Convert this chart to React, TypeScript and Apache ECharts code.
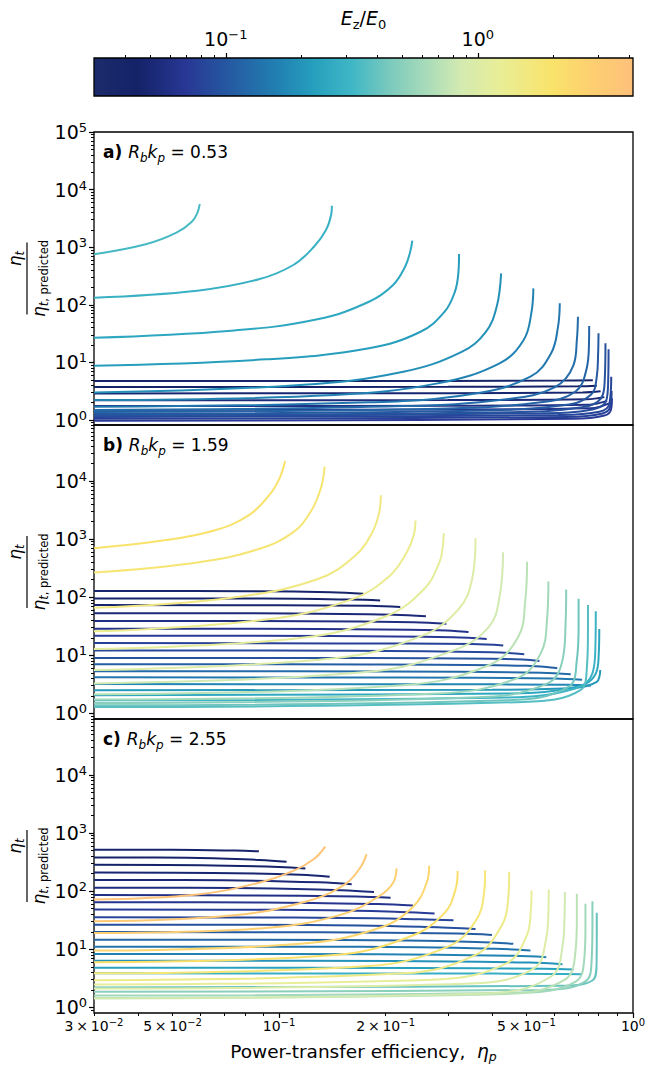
import React, { useEffect, useRef } from "react";
import * as echarts from "echarts";

// ---------- colour scale E_z / E_0 ----------
const CB_MIN = 0.03;
const CB_MAX = 4.13;
const CB_MAJOR = [0.1, 1];
const CB_MINOR = [0.04, 0.05, 0.06, 0.07, 0.08, 0.09, 0.2, 0.3, 0.4, 0.5, 0.6, 0.7, 0.8, 0.9, 2, 3, 4];
const CMAP_POS = [0, 0.08, 0.17, 0.25, 0.34, 0.41, 0.48, 0.55, 0.62, 0.68, 0.75, 0.85, 0.92, 1];
const CMAP_COL = ["#1b2b6a", "#142268", "#283794", "#2559a1", "#2180b2", "#27a0be", "#40b7c6", "#7ccabd", "#aadcb9", "#d3eab1", "#e8ee98", "#f9e36a", "#fdd070", "#fec07a"];

// ---------- axes ----------
const X_MIN = 0.03;
const X_MAX = 1;
const X_LABELS = [0.03, 0.05, 0.1, 0.2, 0.5, 1];
const X_MAJOR = [0.1, 1];
const X_MINOR = [0.03, 0.04, 0.05, 0.06, 0.07, 0.08, 0.09, 0.2, 0.3, 0.4, 0.5, 0.6, 0.7, 0.8, 0.9];
const Y_MIN = [0.82, 0.8, 0.8];
const Y_MAX = [1e5, 9.2e4, 9.2e4];
const Y_MAJOR = [1, 10, 100, 1000, 10000, 100000];
const Y_MINOR_MULT = [2, 3, 4, 5, 6, 7, 8, 9];
const Y_MINOR_DECADES = [0.1, 1, 10, 100, 1000, 10000];

const PANEL_TAG = ["a)", "b)", "c)"];
const PANEL_RBKP = ["0.53", "1.59", "2.55"];

// ---------- panel a: R_b k_p = 0.53 ----------
const A_E = [0.040, 0.044, 0.048, 0.053, 0.058, 0.064,
  0.33, 0.29, 0.25, 0.22, 0.19, 0.165, 0.145, 0.128, 0.115, 0.104, 0.095, 0.088, 0.082, 0.077, 0.072];
const A_PTS = [
  [[0.03, 4.75], [0.3, 4.78], [0.65, 4.85], [0.77, 4.9]],
  [[0.03, 3.75], [0.3, 3.78], [0.7, 3.85], [0.79, 3.95]],
  [[0.03, 2.9], [0.3, 2.93], [0.72, 3.0], [0.81, 3.15]],
  [[0.03, 2.2], [0.3, 2.22], [0.74, 2.3], [0.83, 2.5]],
  [[0.03, 1.75], [0.3, 1.77], [0.75, 1.85], [0.845, 2.15]],
  [[0.03, 1.5], [0.3, 1.52], [0.76, 1.6], [0.855, 1.95]],
  [[0.03, 752], [0.042, 1122], [0.0513, 1786], [0.0567, 2772], [0.0587, 3873], [0.0597, 5600]],
  [[0.03, 133], [0.0587, 176], [0.0877, 277], [0.1097, 491], [0.1255, 1020], [0.1357, 1990], [0.1403, 3620], [0.141, 5250]],
  [[0.03, 26.8], [0.0734, 35.5], [0.1283, 56], [0.1795, 113], [0.21, 221], [0.227, 459], [0.2347, 836], [0.238, 1300]],
  [[0.03, 8.77], [0.0918, 11.3], [0.1795, 17.6], [0.251, 34.1], [0.2936, 75.9], [0.3139, 169], [0.321, 352], [0.3225, 762]],
  [[0.03, 3.0], [0.1147, 4.05], [0.2244, 6.9], [0.328, 15.3], [0.384, 34], [0.412, 92.7], [0.424, 352]],
  [[0.03, 2.22], [0.1435, 2.72], [0.2805, 4.33], [0.4197, 9.64], [0.491, 24.5], [0.516, 71], [0.523, 193]],
  [[0.03, 1.7], [0.1795, 2.03], [0.351, 2.83], [0.513, 5.65], [0.587, 14.4], [0.614, 41.7], [0.621, 106]],
  [[0.03, 1.49], [0.2244, 1.75], [0.439, 2.29], [0.6, 3.69], [0.679, 9.0], [0.694, 24.5], [0.699, 62]],
  [[0.03, 1.38], [0.2805, 1.57], [0.549, 2.03], [0.687, 3.1], [0.738, 7.38], [0.751, 21.4], [0.752, 42.8]],
  [[0.03, 1.29], [0.351, 1.45], [0.642, 1.82], [0.759, 2.72], [0.79, 5.65], [0.797, 14.4], [0.799, 32]],
  [[0.03, 1.22], [0.439, 1.36], [0.718, 1.66], [0.812, 2.38], [0.832, 4.95], [0.836, 21.5]],
  [[0.03, 1.17], [0.549, 1.31], [0.768, 1.53], [0.84, 2.16], [0.851, 4.95], [0.853, 16.9]],
  [[0.03, 1.13], [0.614, 1.22], [0.803, 1.39], [0.858, 1.95], [0.868, 5.65]],
  [[0.03, 1.05], [0.65, 1.13], [0.82, 1.3], [0.862, 1.7], [0.87, 3.2]],
  [[0.03, 0.97], [0.68, 1.05], [0.83, 1.2], [0.866, 1.5], [0.872, 2.4]],
];

// ---------- panel b: R_b k_p = 1.59 ----------
const B_E = [0.040, 0.043, 0.047, 0.052, 0.057, 0.063, 0.070, 0.077, 0.085, 0.095, 0.11, 0.125, 0.145, 0.17,
  0.21, 0.25, 0.30, 0.36, 0.42, 0.50, 0.60, 0.72, 0.85, 1.0, 1.15, 1.35, 1.55, 1.8, 2.0];
const B_PTS = [
  [[0.03, 128], [0.08, 127], [0.14, 122], [0.173, 115]],
  [[0.03, 95], [0.09, 94.5], [0.16, 91], [0.193, 88]],
  [[0.03, 73], [0.1, 72.5], [0.18, 71], [0.22, 68]],
  [[0.03, 53], [0.11, 52.5], [0.21, 50], [0.26, 47]],
  [[0.03, 39], [0.12, 38.6], [0.24, 37], [0.297, 35]],
  [[0.03, 28.7], [0.13, 28.4], [0.28, 27], [0.343, 25.2]],
  [[0.03, 21.7], [0.14, 21.5], [0.31, 20.4], [0.386, 19]],
  [[0.03, 16.2], [0.15, 16], [0.35, 15.6], [0.43, 14.8]],
  [[0.03, 12.1], [0.16, 12], [0.4, 11.3], [0.493, 10.4]],
  [[0.03, 9.0], [0.17, 8.95], [0.44, 8.6], [0.544, 8.0]],
  [[0.03, 7.0], [0.18, 6.95], [0.5, 6.6], [0.611, 6.0]],
  [[0.03, 5.3], [0.2, 5.27], [0.55, 5.0], [0.667, 4.7]],
  [[0.03, 4.17], [0.22, 4.15], [0.6, 4.0], [0.718, 3.8]],
  [[0.03, 3.19], [0.25, 3.18], [0.65, 3.1], [0.76, 3.0]],
  [[0.03, 2.5], [0.4, 2.55], [0.7, 2.8], [0.79, 3.5], [0.805, 4.5], [0.808, 5.58]],
  [[0.03, 2.05], [0.45, 2.2], [0.7, 2.9], [0.78, 4.5], [0.8, 10], [0.803, 28.4]],
  [[0.03, 1.68], [0.439, 1.87], [0.687, 2.68], [0.768, 4.89], [0.783, 14.2], [0.785, 57.4]],
  [[0.03, 1.29], [0.491, 1.57], [0.71, 2.51], [0.741, 6.4], [0.746, 24], [0.746, 73]],
  [[0.03, 1.38], [0.439, 1.68], [0.657, 2.86], [0.694, 8.3], [0.702, 31.5], [0.702, 94]],
  [[0.03, 1.51], [0.351, 1.87], [0.574, 3.28], [0.635, 9.5], [0.645, 36], [0.6475, 136]],
  [[0.03, 1.73], [0.2805, 2.2], [0.4693, 4.0], [0.549, 10.9], [0.5715, 41], [0.5766, 186]],
  [[0.03, 2.14], [0.2244, 3.06], [0.3925, 6.8], [0.4746, 21.1], [0.4964, 91.6], [0.502, 407]],
  [[0.03, 3.28], [0.1795, 5.21], [0.3139, 12.4], [0.3925, 31.5], [0.42, 104], [0.4295, 593]],
  [[0.03, 5.58], [0.1435, 8.9], [0.251, 21.1], [0.321, 61.4], [0.351, 204], [0.359, 1035]],
  [[0.03, 12.8], [0.1147, 19.8], [0.2007, 47], [0.2566, 137], [0.2838, 397], [0.2903, 771], [0.292, 1266]],
  [[0.03, 25.8], [0.0918, 41.2], [0.1604, 91.6], [0.2052, 232], [0.2295, 592], [0.24, 1150], [0.243, 2094]],
  [[0.03, 65.8], [0.0734, 98], [0.1283, 204], [0.164, 517], [0.1835, 1318], [0.1919, 2930], [0.194, 5690]],
  [[0.03, 266], [0.0587, 397], [0.0877, 676], [0.1097, 1318], [0.1227, 2930], [0.1312, 7440], [0.1345, 17700]],
  [[0.03, 695], [0.0469, 942], [0.0656, 1406], [0.082, 2560], [0.0938, 5690], [0.1003, 11100], [0.104, 22100]],
];

// ---------- panel c: R_b k_p = 2.55 ----------
const C_E = [0.040, 0.042, 0.045, 0.048, 0.051, 0.055, 0.060, 0.066, 0.073, 0.082, 0.092, 0.105, 0.12, 0.14, 0.165, 0.195, 0.23, 0.28,
  0.40, 0.50, 0.60, 0.72, 0.85, 1.0, 1.2, 1.45, 1.75, 2.1, 2.5, 2.9, 3.3, 3.8];
const C_PTS = [
  [[0.03, 517], [0.05, 516], [0.075, 500], [0.0877, 485]],
  [[0.03, 381], [0.055, 378], [0.088, 345], [0.105, 320]],
  [[0.03, 284], [0.06, 280], [0.1, 262], [0.1187, 246]],
  [[0.03, 209], [0.065, 206], [0.115, 192], [0.139, 178]],
  [[0.03, 156], [0.07, 154], [0.13, 142], [0.1604, 131]],
  [[0.03, 115], [0.075, 113], [0.15, 104], [0.1855, 96.5]],
  [[0.03, 85.6], [0.08, 84.5], [0.165, 81], [0.2066, 77]],
  [[0.03, 64.7], [0.09, 64], [0.19, 60], [0.2389, 56.7]],
  [[0.03, 48.3], [0.1, 47.7], [0.22, 44], [0.275, 41.2]],
  [[0.03, 35.5], [0.11, 35.1], [0.25, 33], [0.311, 31.5]],
  [[0.03, 26.5], [0.12, 26.2], [0.28, 24], [0.359, 22.3]],
  [[0.03, 19.8], [0.13, 19.6], [0.32, 18.6], [0.3995, 17.6]],
  [[0.03, 14.6], [0.15, 14.4], [0.36, 13.4], [0.459, 12.4]],
  [[0.03, 11.1], [0.17, 11], [0.41, 10.2], [0.513, 9.5]],
  [[0.03, 8.3], [0.19, 8.2], [0.46, 7.7], [0.569, 7.3]],
  [[0.03, 6.37], [0.21, 6.3], [0.51, 5.9], [0.632, 5.5]],
  [[0.03, 4.81], [0.24, 4.78], [0.56, 4.6], [0.679, 4.5]],
  [[0.03, 3.85], [0.27, 3.84], [0.6, 3.75], [0.718, 3.7]],
  [[0.03, 2.2], [0.614, 2.35], [0.768, 2.9], [0.789, 5.73], [0.79, 19], [0.79, 42.4]],
  [[0.03, 1.85], [0.549, 2.0], [0.734, 2.8], [0.764, 6.55], [0.768, 24.8], [0.768, 67]],
  [[0.03, 1.6], [0.491, 1.8], [0.687, 2.75], [0.728, 6.55], [0.734, 24.8], [0.734, 60.7]],
  [[0.03, 1.45], [0.439, 1.7], [0.642, 3.0], [0.687, 8.55], [0.694, 32.4], [0.694, 90]],
  [[0.03, 1.42], [0.3925, 1.75], [0.587, 3.4], [0.632, 11.1], [0.6405, 37], [0.642, 96.5]],
  [[0.03, 2.11], [0.351, 2.58], [0.525, 4.7], [0.5677, 14.6], [0.577, 48.3], [0.578, 107]],
  [[0.03, 2.48], [0.2805, 3.03], [0.439, 5.73], [0.4998, 16.6], [0.5146, 48.3], [0.5168, 103]],
  [[0.03, 2.94], [0.2244, 3.85], [0.359, 8.0], [0.4245, 24.8], [0.4439, 72], [0.4469, 215]],
  [[0.03, 3.85], [0.1795, 5.15], [0.3, 11.1], [0.359, 30.3], [0.3795, 94], [0.3822, 230]],
  [[0.03, 5.97], [0.1435, 8.0], [0.2347, 16.6], [0.2936, 42.4], [0.3151, 107], [0.3196, 223]],
  [[0.03, 9.5], [0.1147, 12.4], [0.1919, 23.2], [0.24, 55.1], [0.2613, 140], [0.2655, 273]],
  [[0.03, 19.0], [0.0918, 23.2], [0.15, 39.5], [0.1919, 82.2], [0.21, 140], [0.2147, 246]],
  [[0.03, 30.3], [0.0734, 38], [0.12, 67], [0.1535, 131], [0.1697, 256], [0.1767, 435]],
  [[0.03, 72], [0.0587, 88], [0.0877, 140], [0.1097, 223], [0.1255, 357], [0.135, 583]],
];

// ---------- helpers ----------
const FONT = "DejaVu Sans";
const lg = (v: number) => Math.log10(v);

function hexRgb(h: string) {
  return [parseInt(h.slice(1, 3), 16), parseInt(h.slice(3, 5), 16), parseInt(h.slice(5, 7), 16)];
}
const CMAP_RGB = CMAP_COL.map(hexRgb);

function colorOf(E: number) {
  const t0 = (lg(E) - lg(CB_MIN)) / (lg(CB_MAX) - lg(CB_MIN));
  const t = Math.min(1, Math.max(0, t0));
  let i = 0;
  while (i < CMAP_POS.length - 2 && t > CMAP_POS[i + 1]) i++;
  const u = (t - CMAP_POS[i]) / (CMAP_POS[i + 1] - CMAP_POS[i]);
  const a = CMAP_RGB[i], b = CMAP_RGB[i + 1];
  const c = [0, 1, 2].map((k) => Math.round(a[k] + (b[k] - a[k]) * u));
  return `rgb(${c[0]},${c[1]},${c[2]})`;
}

const supTxt = (e: number) => (e < 0 ? "\u2212" + -e : "" + e);
function logLabel(v: number) {
  const e = Math.floor(v + 1e-9);
  const m = Math.round(Math.pow(10, v - e));
  return m === 1 ? `{b|10}{s|${supTxt(e)}}` : `{b|${m}\u2009\u00d7\u200910}{s|${supTxt(e)}}`;
}

const tickRich = {
  b: { fontFamily: FONT, fontSize: 19, lineHeight: 22, color: "#000" },
  s: { fontFamily: FONT, fontSize: 13, lineHeight: 13, verticalAlign: "top", color: "#000" },
};
const xTickRich = {
  b: { fontFamily: FONT, fontSize: 14, lineHeight: 17, color: "#000" },
  s: { fontFamily: FONT, fontSize: 10, lineHeight: 10, verticalAlign: "top", color: "#000" },
};

function tickAxis(gridIndex: number, position: string, min: number, max: number, ticks: number[], len: number,
  labels?: number[], rich?: any, margin?: number) {
  return {
    type: "value",
    gridIndex,
    position,
    min,
    max,
    axisLine: { show: false, onZero: false },
    splitLine: { show: false },
    axisTick: { show: true, inside: false, length: len, customValues: ticks, lineStyle: { color: "#000", width: len > 4 ? 1.2 : 1 } },
    axisLabel: labels
      ? { show: true, customValues: labels, formatter: (v: number) => logLabel(v), rich, margin, color: "#000", fontFamily: FONT }
      : { show: false },
  };
}

function buildOption() {
  const GRIDS = [
    { left: 94, top: 58, width: 539, height: 38 },
    { left: 94, top: 132, width: 539, height: 293 },
    { left: 94, top: 425, width: 539, height: 294 },
    { left: 94, top: 719, width: 539, height: 294 },
  ];
  const grid = GRIDS.map((g) => ({ ...g, show: true, borderColor: "#000", borderWidth: 1.3, backgroundColor: "transparent" }));

  const xAxis: any[] = [
    { type: "log", logBase: 10, gridIndex: 0, min: CB_MIN, max: CB_MAX, show: false },
    tickAxis(0, "top", lg(CB_MIN), lg(CB_MAX), CB_MAJOR.map(lg), 5, CB_MAJOR.map(lg), tickRich, 8),
    tickAxis(0, "top", lg(CB_MIN), lg(CB_MAX), CB_MINOR.map(lg), 3),
    { type: "log", logBase: 10, gridIndex: 1, min: X_MIN, max: X_MAX, show: false },
    { type: "log", logBase: 10, gridIndex: 2, min: X_MIN, max: X_MAX, show: false },
    { type: "log", logBase: 10, gridIndex: 3, min: X_MIN, max: X_MAX, show: false },
    tickAxis(3, "bottom", lg(X_MIN), lg(X_MAX), X_MAJOR.map(lg), 5, X_LABELS.map(lg), xTickRich, 4),
    tickAxis(3, "bottom", lg(X_MIN), lg(X_MAX), X_MINOR.map(lg), 3),
  ];

  const yAxis: any[] = [{ type: "value", gridIndex: 0, min: 0, max: 1, show: false }];
  const minorAll: number[] = [];
  Y_MINOR_DECADES.forEach((d) => Y_MINOR_MULT.forEach((m) => minorAll.push(m * d)));
  for (let p = 0; p < 3; p++) {
    const lo = Y_MIN[p], hi = Y_MAX[p];
    const maj = Y_MAJOR.filter((v) => v >= lo && v <= hi).map(lg);
    const mnr = minorAll.filter((v) => v > lo && v < hi).map(lg);
    yAxis.push({ type: "log", logBase: 10, gridIndex: p + 1, min: lo, max: hi, show: false });
    yAxis.push(tickAxis(p + 1, "left", lg(lo), lg(hi), maj, 5, maj, tickRich, 7));
    yAxis.push(tickAxis(p + 1, "left", lg(lo), lg(hi), mnr, 3));
  }

  const stops = CMAP_POS.map((p, i) => ({ offset: p, color: CMAP_COL[i] }));
  const series: any[] = [
    {
      type: "custom",
      xAxisIndex: 0,
      yAxisIndex: 0,
      silent: true,
      z: -1,
      data: [[CB_MIN, 0, CB_MAX, 1]],
      encode: { x: [0, 2], y: [1, 3] },
      renderItem: (params: any, api: any) => {
        const p0 = api.coord([api.value(0), api.value(1)]);
        const p1 = api.coord([api.value(2), api.value(3)]);
        return {
          type: "rect",
          shape: { x: p0[0], y: p1[1], width: p1[0] - p0[0], height: p0[1] - p1[1] },
          style: { fill: new echarts.graphic.LinearGradient(0, 0, 1, 0, stops) },
        };
      },
    },
  ];

  const panels = [
    { E: A_E, P: A_PTS },
    { E: B_E, P: B_PTS },
    { E: C_E, P: C_PTS },
  ];
  panels.forEach((pn, p) => {
    const order = pn.E.map((_, i) => i).sort((i, j) => pn.E[i] - pn.E[j]);
    order.forEach((i) => {
      series.push({
        type: "line",
        xAxisIndex: 3 + p,
        yAxisIndex: 1 + 3 * p,
        data: pn.P[i],
        showSymbol: false,
        symbol: "none",
        smooth: 0.4,
        silent: true,
        lineStyle: { color: colorOf(pn.E[i]), width: 2 },
      });
    });
  });

  const labRich = {
    bd: { fontFamily: FONT, fontSize: 17, fontWeight: "bold", lineHeight: 24, fill: "#000" },
    it: { fontFamily: FONT, fontSize: 17, fontStyle: "italic", lineHeight: 24 },
    sub: { fontFamily: FONT, fontSize: 12, fontStyle: "italic", lineHeight: 12, verticalAlign: "bottom" },
    n: { fontFamily: FONT, fontSize: 17, lineHeight: 24 },
  };
  const fracRich = {
    e: { fontFamily: FONT, fontSize: 17, fontStyle: "italic", lineHeight: 22 },
    si: { fontFamily: FONT, fontSize: 11.5, fontStyle: "italic", lineHeight: 11, verticalAlign: "bottom" },
    s: { fontFamily: FONT, fontSize: 11.5, lineHeight: 11, verticalAlign: "bottom" },
  };
  const graphic: any[] = [];
  const panelTops = [132, 425, 719];
  const panelCenters = [278.5, 572, 866];
  for (let p = 0; p < 3; p++) {
    graphic.push({
      type: "text",
      x: 103,
      y: panelTops[p] + 20,
      style: {
        text: `{bd|${PANEL_TAG[p]} }{it|R}{sub|b}{it|k}{sub|p}{n| = ${PANEL_RBKP[p]}}`,
        rich: labRich,
        fontFamily: FONT,
        fontSize: 17,
        fill: "#000",
        align: "left",
        verticalAlign: "middle",
      },
    });
    graphic.push({
      type: "group",
      x: 27,
      y: panelCenters[p],
      rotation: Math.PI / 2,
      children: [
        { type: "line", shape: { x1: -36, y1: 0, x2: 36, y2: 0 }, style: { stroke: "#000", lineWidth: 1.2 } },
        {
          type: "text",
          x: 20,
          y: -1,
          style: { text: "{e|\u03b7}{si|t}", rich: fracRich, fill: "#000", align: "center", verticalAlign: "bottom" },
        },
        {
          type: "text",
          x: 0,
          y: 1,
          style: { text: "{e|\u03b7}{si|t}{s|, predicted}", rich: fracRich, fill: "#000", align: "center", verticalAlign: "top" },
        },
      ],
    });
  }
  graphic.push({
    type: "text",
    x: 363.5,
    y: 18,
    style: {
      text: "{it|E}{sub|z}{n|/}{it|E}{sub|0}",
      rich: {
        it: { fontFamily: FONT, fontSize: 19, fontStyle: "italic", lineHeight: 26 },
        n: { fontFamily: FONT, fontSize: 19, lineHeight: 26 },
        sub: { fontFamily: FONT, fontSize: 13, lineHeight: 13, verticalAlign: "bottom" },
      },
      fill: "#000",
      align: "center",
      verticalAlign: "middle",
    },
  });
  graphic.push({
    type: "text",
    x: 363.5,
    y: 1051,
    style: {
      text: "{n|Power-transfer efficiency,  }{it|\u03b7}{sub|p}",
      rich: {
        n: { fontFamily: FONT, fontSize: 18.5, lineHeight: 24 },
        it: { fontFamily: FONT, fontSize: 18.5, fontStyle: "italic", lineHeight: 24 },
        sub: { fontFamily: FONT, fontSize: 12.5, fontStyle: "italic", lineHeight: 12, verticalAlign: "bottom" },
      },
      fill: "#000",
      align: "center",
      verticalAlign: "middle",
    },
  });

  return {
    animation: false,
    backgroundColor: "#fff",
    grid,
    xAxis,
    yAxis,
    series,
    graphic,
  };
}

export default function App() {
  const ref = useRef<HTMLDivElement>(null);
  useEffect(() => {
    if (!ref.current) return;
    const chart = echarts.init(ref.current, null, { renderer: "svg" });
    chart.setOption(buildOption() as any);
    return () => chart.dispose();
  }, []);
  return (
    <div
      ref={ref}
      style={{ position: "absolute", left: 0, top: 0, width: 659, height: 1066, background: "#fff" }}
    />
  );
}
